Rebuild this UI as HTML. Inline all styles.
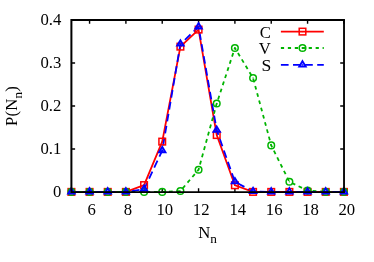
<!DOCTYPE html>
<html><head><meta charset="utf-8"><style>
html,body{margin:0;padding:0;background:#fff;}
body{width:374px;height:262px;position:relative;overflow:hidden;font-family:"Liberation Serif",serif;color:#000;}
</style></head><body>
<svg width="374" height="262" viewBox="0 0 374 262" style="position:absolute;left:0;top:0;will-change:transform">
<path d="M89.57,191.9v-3.7M89.57,20.0v3.7M125.90,191.9v-3.7M125.90,20.0v3.7M162.23,191.9v-3.7M162.23,20.0v3.7M198.57,191.9v-3.7M198.57,20.0v3.7M234.90,191.9v-3.7M234.90,20.0v3.7M271.23,191.9v-3.7M271.23,20.0v3.7M307.57,191.9v-3.7M307.57,20.0v3.7M343.90,191.9v-3.7M343.90,20.0v3.7M71.4,191.90h3.7M343.9,191.90h-3.7M71.4,148.93h3.7M343.9,148.93h-3.7M71.4,105.95h3.7M343.9,105.95h-3.7M71.4,62.98h3.7M343.9,62.98h-3.7M71.4,20.00h3.7M343.9,20.00h-3.7" stroke="#000" stroke-width="1.4" fill="none"/>
<polyline points="71.40,191.90 89.57,191.90 107.73,191.90 125.90,191.90 144.07,185.11 162.23,141.62 180.40,46.64 198.57,29.58 216.73,135.04 234.90,185.24 253.07,191.90 271.23,191.90 289.40,191.90 307.57,191.90 325.73,191.90 343.90,191.90" fill="none" stroke="#ff0000" stroke-width="1.8" stroke-linejoin="round"/>
<polyline points="71.40,191.90 89.57,191.90 107.73,191.90 125.90,191.90 144.07,191.90 162.23,191.90 180.40,191.04 198.57,169.68 216.73,103.54 234.90,47.93 253.07,78.02 271.23,145.40 289.40,181.80 307.57,190.61 325.73,191.90 343.90,191.90" fill="none" stroke="#00b400" stroke-width="1.8" stroke-dasharray="3.8,3.7" stroke-linejoin="round"/>
<polyline points="71.40,191.90 89.57,191.90 107.73,191.90 125.90,191.90 144.07,189.32 162.23,150.60 180.40,44.07 198.57,26.88 216.73,130.14 234.90,181.80 253.07,191.47 271.23,191.90 289.40,191.90 307.57,191.90 325.73,191.90 343.90,191.90" fill="none" stroke="#0000ff" stroke-width="1.8" stroke-dasharray="7.7,4.4" stroke-linejoin="round"/>
<rect x="68.10" y="188.60" width="6.6" height="6.6" fill="none" stroke="#ff0000" stroke-width="1.5"/><circle cx="71.40" cy="191.90" r="0.65" fill="#ff0000"/>
<rect x="86.27" y="188.60" width="6.6" height="6.6" fill="none" stroke="#ff0000" stroke-width="1.5"/><circle cx="89.57" cy="191.90" r="0.65" fill="#ff0000"/>
<rect x="104.43" y="188.60" width="6.6" height="6.6" fill="none" stroke="#ff0000" stroke-width="1.5"/><circle cx="107.73" cy="191.90" r="0.65" fill="#ff0000"/>
<rect x="122.60" y="188.60" width="6.6" height="6.6" fill="none" stroke="#ff0000" stroke-width="1.5"/><circle cx="125.90" cy="191.90" r="0.65" fill="#ff0000"/>
<rect x="140.77" y="181.81" width="6.6" height="6.6" fill="none" stroke="#ff0000" stroke-width="1.5"/><circle cx="144.07" cy="185.11" r="0.65" fill="#ff0000"/>
<rect x="158.93" y="138.32" width="6.6" height="6.6" fill="none" stroke="#ff0000" stroke-width="1.5"/><circle cx="162.23" cy="141.62" r="0.65" fill="#ff0000"/>
<rect x="177.10" y="43.34" width="6.6" height="6.6" fill="none" stroke="#ff0000" stroke-width="1.5"/><circle cx="180.40" cy="46.64" r="0.65" fill="#ff0000"/>
<rect x="195.27" y="26.28" width="6.6" height="6.6" fill="none" stroke="#ff0000" stroke-width="1.5"/><circle cx="198.57" cy="29.58" r="0.65" fill="#ff0000"/>
<rect x="213.43" y="131.74" width="6.6" height="6.6" fill="none" stroke="#ff0000" stroke-width="1.5"/><circle cx="216.73" cy="135.04" r="0.65" fill="#ff0000"/>
<rect x="231.60" y="181.94" width="6.6" height="6.6" fill="none" stroke="#ff0000" stroke-width="1.5"/><circle cx="234.90" cy="185.24" r="0.65" fill="#ff0000"/>
<rect x="249.77" y="188.60" width="6.6" height="6.6" fill="none" stroke="#ff0000" stroke-width="1.5"/><circle cx="253.07" cy="191.90" r="0.65" fill="#ff0000"/>
<rect x="267.93" y="188.60" width="6.6" height="6.6" fill="none" stroke="#ff0000" stroke-width="1.5"/><circle cx="271.23" cy="191.90" r="0.65" fill="#ff0000"/>
<rect x="286.10" y="188.60" width="6.6" height="6.6" fill="none" stroke="#ff0000" stroke-width="1.5"/><circle cx="289.40" cy="191.90" r="0.65" fill="#ff0000"/>
<rect x="304.27" y="188.60" width="6.6" height="6.6" fill="none" stroke="#ff0000" stroke-width="1.5"/><circle cx="307.57" cy="191.90" r="0.65" fill="#ff0000"/>
<rect x="322.43" y="188.60" width="6.6" height="6.6" fill="none" stroke="#ff0000" stroke-width="1.5"/><circle cx="325.73" cy="191.90" r="0.65" fill="#ff0000"/>
<rect x="340.60" y="188.60" width="6.6" height="6.6" fill="none" stroke="#ff0000" stroke-width="1.5"/><circle cx="343.90" cy="191.90" r="0.65" fill="#ff0000"/>
<circle cx="71.40" cy="191.90" r="3.3" fill="none" stroke="#00b400" stroke-width="1.5"/><circle cx="71.40" cy="191.90" r="0.65" fill="#00b400"/>
<circle cx="89.57" cy="191.90" r="3.3" fill="none" stroke="#00b400" stroke-width="1.5"/><circle cx="89.57" cy="191.90" r="0.65" fill="#00b400"/>
<circle cx="107.73" cy="191.90" r="3.3" fill="none" stroke="#00b400" stroke-width="1.5"/><circle cx="107.73" cy="191.90" r="0.65" fill="#00b400"/>
<circle cx="125.90" cy="191.90" r="3.3" fill="none" stroke="#00b400" stroke-width="1.5"/><circle cx="125.90" cy="191.90" r="0.65" fill="#00b400"/>
<circle cx="144.07" cy="191.90" r="3.3" fill="none" stroke="#00b400" stroke-width="1.5"/><circle cx="144.07" cy="191.90" r="0.65" fill="#00b400"/>
<circle cx="162.23" cy="191.90" r="3.3" fill="none" stroke="#00b400" stroke-width="1.5"/><circle cx="162.23" cy="191.90" r="0.65" fill="#00b400"/>
<circle cx="180.40" cy="191.04" r="3.3" fill="none" stroke="#00b400" stroke-width="1.5"/><circle cx="180.40" cy="191.04" r="0.65" fill="#00b400"/>
<circle cx="198.57" cy="169.68" r="3.3" fill="none" stroke="#00b400" stroke-width="1.5"/><circle cx="198.57" cy="169.68" r="0.65" fill="#00b400"/>
<circle cx="216.73" cy="103.54" r="3.3" fill="none" stroke="#00b400" stroke-width="1.5"/><circle cx="216.73" cy="103.54" r="0.65" fill="#00b400"/>
<circle cx="234.90" cy="47.93" r="3.3" fill="none" stroke="#00b400" stroke-width="1.5"/><circle cx="234.90" cy="47.93" r="0.65" fill="#00b400"/>
<circle cx="253.07" cy="78.02" r="3.3" fill="none" stroke="#00b400" stroke-width="1.5"/><circle cx="253.07" cy="78.02" r="0.65" fill="#00b400"/>
<circle cx="271.23" cy="145.40" r="3.3" fill="none" stroke="#00b400" stroke-width="1.5"/><circle cx="271.23" cy="145.40" r="0.65" fill="#00b400"/>
<circle cx="289.40" cy="181.80" r="3.3" fill="none" stroke="#00b400" stroke-width="1.5"/><circle cx="289.40" cy="181.80" r="0.65" fill="#00b400"/>
<circle cx="307.57" cy="190.61" r="3.3" fill="none" stroke="#00b400" stroke-width="1.5"/><circle cx="307.57" cy="190.61" r="0.65" fill="#00b400"/>
<circle cx="325.73" cy="191.90" r="3.3" fill="none" stroke="#00b400" stroke-width="1.5"/><circle cx="325.73" cy="191.90" r="0.65" fill="#00b400"/>
<circle cx="343.90" cy="191.90" r="3.3" fill="none" stroke="#00b400" stroke-width="1.5"/><circle cx="343.90" cy="191.90" r="0.65" fill="#00b400"/>
<path d="M71.40,188.11L74.70,193.55L68.10,193.55Z" fill="#0000ff" fill-opacity="0.45" stroke="#0000ff" stroke-width="1.8" stroke-linejoin="miter"/><circle cx="71.40" cy="191.90" r="0.65" fill="#0000ff"/>
<path d="M89.57,188.11L92.87,193.55L86.27,193.55Z" fill="#0000ff" fill-opacity="0.45" stroke="#0000ff" stroke-width="1.8" stroke-linejoin="miter"/><circle cx="89.57" cy="191.90" r="0.65" fill="#0000ff"/>
<path d="M107.73,188.11L111.03,193.55L104.43,193.55Z" fill="#0000ff" fill-opacity="0.45" stroke="#0000ff" stroke-width="1.8" stroke-linejoin="miter"/><circle cx="107.73" cy="191.90" r="0.65" fill="#0000ff"/>
<path d="M125.90,188.11L129.20,193.55L122.60,193.55Z" fill="#0000ff" fill-opacity="0.45" stroke="#0000ff" stroke-width="1.8" stroke-linejoin="miter"/><circle cx="125.90" cy="191.90" r="0.65" fill="#0000ff"/>
<path d="M144.07,185.53L147.37,190.97L140.77,190.97Z" fill="#0000ff" fill-opacity="0.45" stroke="#0000ff" stroke-width="1.8" stroke-linejoin="miter"/><circle cx="144.07" cy="189.32" r="0.65" fill="#0000ff"/>
<path d="M162.23,146.81L165.53,152.25L158.93,152.25Z" fill="#0000ff" fill-opacity="0.45" stroke="#0000ff" stroke-width="1.8" stroke-linejoin="miter"/><circle cx="162.23" cy="150.60" r="0.65" fill="#0000ff"/>
<path d="M180.40,40.27L183.70,45.72L177.10,45.72Z" fill="#0000ff" fill-opacity="0.45" stroke="#0000ff" stroke-width="1.8" stroke-linejoin="miter"/><circle cx="180.40" cy="44.07" r="0.65" fill="#0000ff"/>
<path d="M198.57,23.08L201.87,28.53L195.27,28.53Z" fill="#0000ff" fill-opacity="0.45" stroke="#0000ff" stroke-width="1.8" stroke-linejoin="miter"/><circle cx="198.57" cy="26.88" r="0.65" fill="#0000ff"/>
<path d="M216.73,126.35L220.03,131.79L213.43,131.79Z" fill="#0000ff" fill-opacity="0.45" stroke="#0000ff" stroke-width="1.8" stroke-linejoin="miter"/><circle cx="216.73" cy="130.14" r="0.65" fill="#0000ff"/>
<path d="M234.90,178.01L238.20,183.45L231.60,183.45Z" fill="#0000ff" fill-opacity="0.45" stroke="#0000ff" stroke-width="1.8" stroke-linejoin="miter"/><circle cx="234.90" cy="181.80" r="0.65" fill="#0000ff"/>
<path d="M253.07,187.68L256.37,193.12L249.77,193.12Z" fill="#0000ff" fill-opacity="0.45" stroke="#0000ff" stroke-width="1.8" stroke-linejoin="miter"/><circle cx="253.07" cy="191.47" r="0.65" fill="#0000ff"/>
<path d="M271.23,188.11L274.53,193.55L267.93,193.55Z" fill="#0000ff" fill-opacity="0.45" stroke="#0000ff" stroke-width="1.8" stroke-linejoin="miter"/><circle cx="271.23" cy="191.90" r="0.65" fill="#0000ff"/>
<path d="M289.40,188.11L292.70,193.55L286.10,193.55Z" fill="#0000ff" fill-opacity="0.45" stroke="#0000ff" stroke-width="1.8" stroke-linejoin="miter"/><circle cx="289.40" cy="191.90" r="0.65" fill="#0000ff"/>
<path d="M307.57,188.11L310.87,193.55L304.27,193.55Z" fill="#0000ff" fill-opacity="0.45" stroke="#0000ff" stroke-width="1.8" stroke-linejoin="miter"/><circle cx="307.57" cy="191.90" r="0.65" fill="#0000ff"/>
<path d="M325.73,188.11L329.03,193.55L322.43,193.55Z" fill="#0000ff" fill-opacity="0.45" stroke="#0000ff" stroke-width="1.8" stroke-linejoin="miter"/><circle cx="325.73" cy="191.90" r="0.65" fill="#0000ff"/>
<path d="M343.90,188.11L347.20,193.55L340.60,193.55Z" fill="#0000ff" fill-opacity="0.45" stroke="#0000ff" stroke-width="1.8" stroke-linejoin="miter"/><circle cx="343.90" cy="191.90" r="0.65" fill="#0000ff"/>
<path d="M280.9,31.6H323.8" stroke="#ff0000" stroke-width="1.8"/><rect x="299.20" y="28.30" width="6.6" height="6.6" fill="none" stroke="#ff0000" stroke-width="1.5"/><circle cx="302.50" cy="31.60" r="0.65" fill="#ff0000"/>
<path d="M280.9,48.0H323.8" stroke="#00b400" stroke-width="1.8" stroke-dasharray="3.2,3.75"/><circle cx="302.50" cy="48.00" r="3.3" fill="none" stroke="#00b400" stroke-width="1.5"/><circle cx="302.50" cy="48.00" r="0.65" fill="#00b400"/>
<path d="M280.9,64.9H323.8" stroke="#0000ff" stroke-width="1.8" stroke-dasharray="7.7,4.4"/><path d="M302.50,61.11L305.80,66.55L299.20,66.55Z" fill="#0000ff" fill-opacity="0.45" stroke="#0000ff" stroke-width="1.8" stroke-linejoin="miter"/><circle cx="302.50" cy="64.90" r="0.65" fill="#0000ff"/>
<path d="M71.4,192.95000000000002V20.0H344.95" fill="none" stroke="#000" stroke-width="2" stroke-linejoin="miter"/>
<path d="M344.02,20.0V192.1H71.4" fill="none" stroke="#000" stroke-width="1.85" stroke-linejoin="miter"/>
<g font-family="Liberation Serif, serif" font-size="16.7" fill="#000">
<text x="61.3" y="197.30" text-anchor="end">0</text>
<text x="61.3" y="154.33" text-anchor="end">0.1</text>
<text x="61.3" y="111.35" text-anchor="end">0.2</text>
<text x="61.3" y="68.38" text-anchor="end">0.3</text>
<text x="61.3" y="25.40" text-anchor="end">0.4</text>
<text x="91.67" y="214.7" text-anchor="middle">6</text>
<text x="128.00" y="214.7" text-anchor="middle">8</text>
<text x="164.83" y="214.7" text-anchor="middle">10</text>
<text x="201.17" y="214.7" text-anchor="middle">12</text>
<text x="237.80" y="214.7" text-anchor="middle">14</text>
<text x="274.13" y="214.7" text-anchor="middle">16</text>
<text x="310.47" y="214.7" text-anchor="middle">18</text>
<text x="346.80" y="214.7" text-anchor="middle">20</text>
<text x="198.2" y="237.9">N<tspan font-size="13.3" dy="5.5">n</tspan></text>
<text x="271" y="37.6" text-anchor="end">C</text>
<text x="270.9" y="54.2" text-anchor="end">V</text>
<text x="271.3" y="71.0" text-anchor="end" font-size="17.6">S</text>
<text transform="translate(16.8,126.0) rotate(-90)" x="0" y="0" letter-spacing="0.2">P(N<tspan font-size="13.3" dy="5">n</tspan><tspan dy="-5">)</tspan></text>
</g>
</svg>
</body></html>
